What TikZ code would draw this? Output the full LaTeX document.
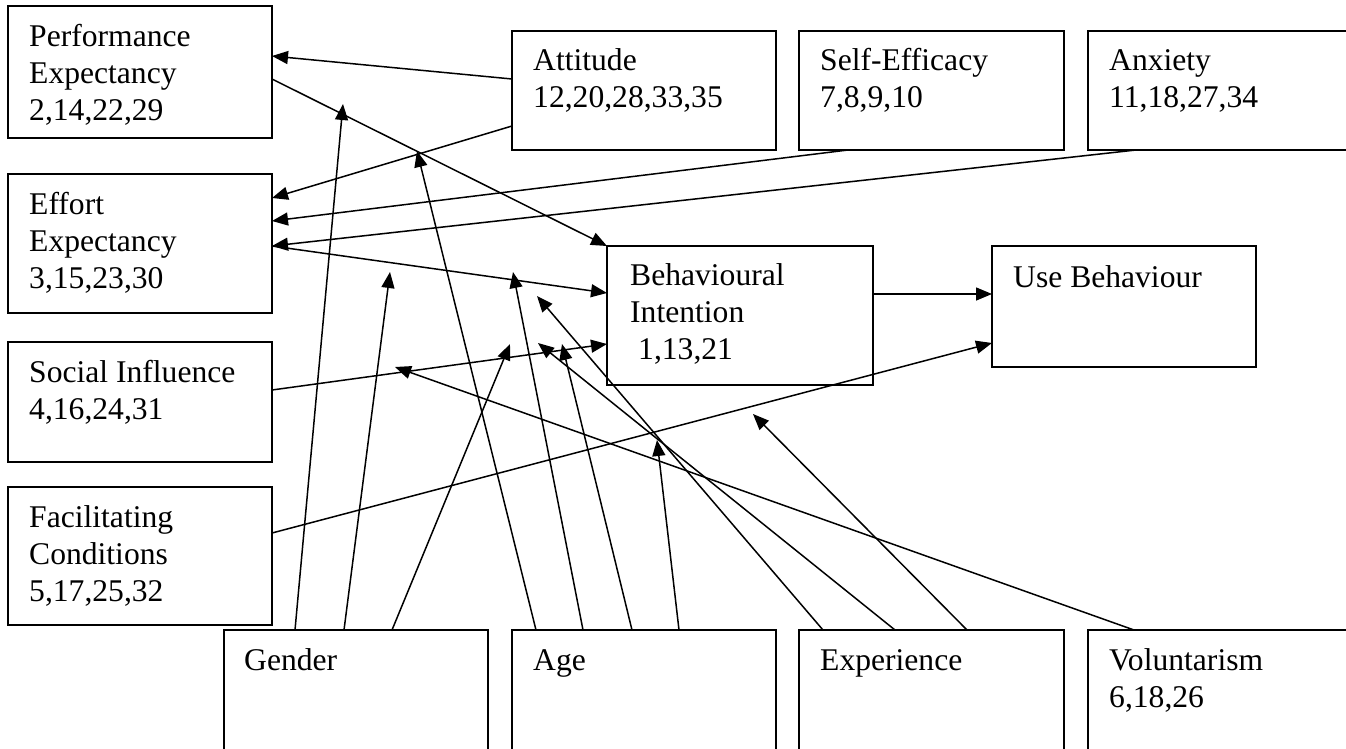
\documentclass[tikz,border=0pt]{standalone}
\usepackage{fontspec}
\setmainfont{Liberation Serif}
\usetikzlibrary{arrows.meta}

% strut that fixes the height of the first text line in each box
\newcommand{\boxstrut}{\rule{0pt}{28pt}}

\begin{document}
\begin{tikzpicture}[x=1pt, y=-1pt,
  box/.style={draw, line width=1.5pt, anchor=north west, inner sep=0pt, outer sep=0pt},
  txt/.style={anchor=north west, inner sep=0pt, align=left,
              font=\fontsize{31.6}{37}\selectfont},
  arr/.style={line width=1.5pt, -{Triangle[length=16pt, width=13pt]}}]

\fill[white] (0,0) rectangle (1346,749);
\path[use as bounding box] (0,0) rectangle (1346,749);
\clip (0,0) rectangle (1346,749);

% ---- constructs on the left
\node[box, minimum width=264pt, minimum height=132pt] (pe) at (8,6) {};
\node[box, minimum width=264pt, minimum height=139pt] (ee) at (8,174) {};
\node[box, minimum width=264pt, minimum height=120pt] (si) at (8,342) {};
\node[box, minimum width=264pt, minimum height=138pt] (fc) at (8,487) {};

% ---- constructs along the top
\node[box, minimum width=264pt, minimum height=119pt] (att) at (512,31) {};
\node[box, minimum width=265pt, minimum height=119pt] (se)  at (799,31) {};
\node[box, minimum width=265pt, minimum height=119pt] (anx) at (1088,31) {};

% ---- intention and behaviour
\node[box, minimum width=266pt, minimum height=139pt] (bi) at (607,246) {};
\node[box, minimum width=264pt, minimum height=121pt] (ub) at (992,246) {};

% ---- moderators along the bottom
\node[box, minimum width=264pt, minimum height=130pt] (gen) at (224,630) {};
\node[box, minimum width=264pt, minimum height=130pt] (age) at (512,630) {};
\node[box, minimum width=265pt, minimum height=130pt] (exp) at (799,630) {};
\node[box, minimum width=265pt, minimum height=130pt] (vol) at (1088,630) {};

% ---- box texts
\node[txt] (pe-t)  at ([xshift=21pt, yshift=-12pt]pe.north west)  {\boxstrut Performance\\Expectancy\\2,14,22,29};
\node[txt] (ee-t)  at ([xshift=21pt, yshift=-12pt]ee.north west)  {\boxstrut Effort\\Expectancy\\3,15,23,30};
\node[txt] (si-t)  at ([xshift=21pt, yshift=-12pt]si.north west)  {\boxstrut Social Influence\\4,16,24,31};
\node[txt] (fc-t)  at ([xshift=21pt, yshift=-12pt]fc.north west)  {\boxstrut Facilitating\\Conditions\\5,17,25,32};
\node[txt] (att-t) at ([xshift=21pt, yshift=-11pt]att.north west) {\boxstrut Attitude\\12,20,28,33,35};
\node[txt] (se-t)  at ([xshift=21pt, yshift=-11pt]se.north west)  {\boxstrut Self-Efficacy\\7,8,9,10};
\node[txt] (anx-t) at ([xshift=21pt, yshift=-11pt]anx.north west) {\boxstrut Anxiety\\11,18,27,34};
\node[txt] (bi-t)  at ([xshift=23pt, yshift=-11pt]bi.north west)  {\boxstrut Behavioural\\Intention\\\hspace*{8pt}1,13,21};
\node[txt] (ub-t)  at ([xshift=21pt, yshift=-13pt]ub.north west)  {\boxstrut Use Behaviour};
\node[txt] (gen-t) at ([xshift=20pt, yshift=-12pt]gen.north west) {\boxstrut Gender};
\node[txt] (age-t) at ([xshift=21pt, yshift=-12pt]age.north west) {\boxstrut Age};
\node[txt] (exp-t) at ([xshift=21pt, yshift=-12pt]exp.north west) {\boxstrut Experience};
\node[txt] (vol-t) at ([xshift=21pt, yshift=-12pt]vol.north west) {\boxstrut Voluntarism\\6,18,26};

% ---- direct paths
\draw[arr] ([yshift=-48pt]att.north west) -- ([yshift=-50pt]pe.north east);
\draw[arr] ([yshift=-95pt]att.north west) -- ([yshift=-24pt]ee.north east);
\draw[arr] ([xshift=49pt]se.south west)   -- ([yshift=-47pt]ee.north east);
\draw[arr] ([xshift=48pt]anx.south west)  -- ([yshift=-72pt]ee.north east);
\draw[arr] ([yshift=-73pt]pe.north east)  -- (bi.north west);
\draw[arr] ([yshift=-72pt]ee.north east)  -- ([yshift=-47pt]bi.north west);
\draw[arr] ([yshift=-48pt]si.north east)  -- ([yshift=-98pt]bi.north west);
\draw[arr] ([yshift=-48pt]bi.north east)  -- ([yshift=-48pt]ub.north west);
\draw[arr] ([yshift=-46pt]fc.north east)  -- ([yshift=-97pt]ub.north west);

% ---- points on the paths where the moderators act
\coordinate (g1) at (343,104);
\coordinate (g2) at (390,272);
\coordinate (g3) at (510,344);
\coordinate (a1) at (417,151);
\coordinate (a2) at (513,272);
\coordinate (a3) at (562,344);
\coordinate (a4) at (657,440);
\coordinate (e1) at (537,296);
\coordinate (e2) at (538,343);
\coordinate (e3) at (753,414);
\coordinate (v1) at (395,367);

% ---- moderating arrows
\draw[arr] ([xshift=71pt]gen.north west)  -- (g1);
\draw[arr] ([xshift=120pt]gen.north west) -- (g2);
\draw[arr] ([xshift=168pt]gen.north west) -- (g3);
\draw[arr] ([xshift=24pt]age.north west)  -- (a1);
\draw[arr] ([xshift=71pt]age.north west)  -- (a2);
\draw[arr] ([xshift=120pt]age.north west) -- (a3);
\draw[arr] ([xshift=167pt]age.north west) -- (a4);
\draw[arr] ([xshift=24pt]exp.north west)  -- (e1);
\draw[arr] ([xshift=96pt]exp.north west)  -- (e2);
\draw[arr] ([xshift=168pt]exp.north west) -- (e3);
\draw[arr] ([xshift=46pt]vol.north west)  -- (v1);

\end{tikzpicture}
\end{document}
